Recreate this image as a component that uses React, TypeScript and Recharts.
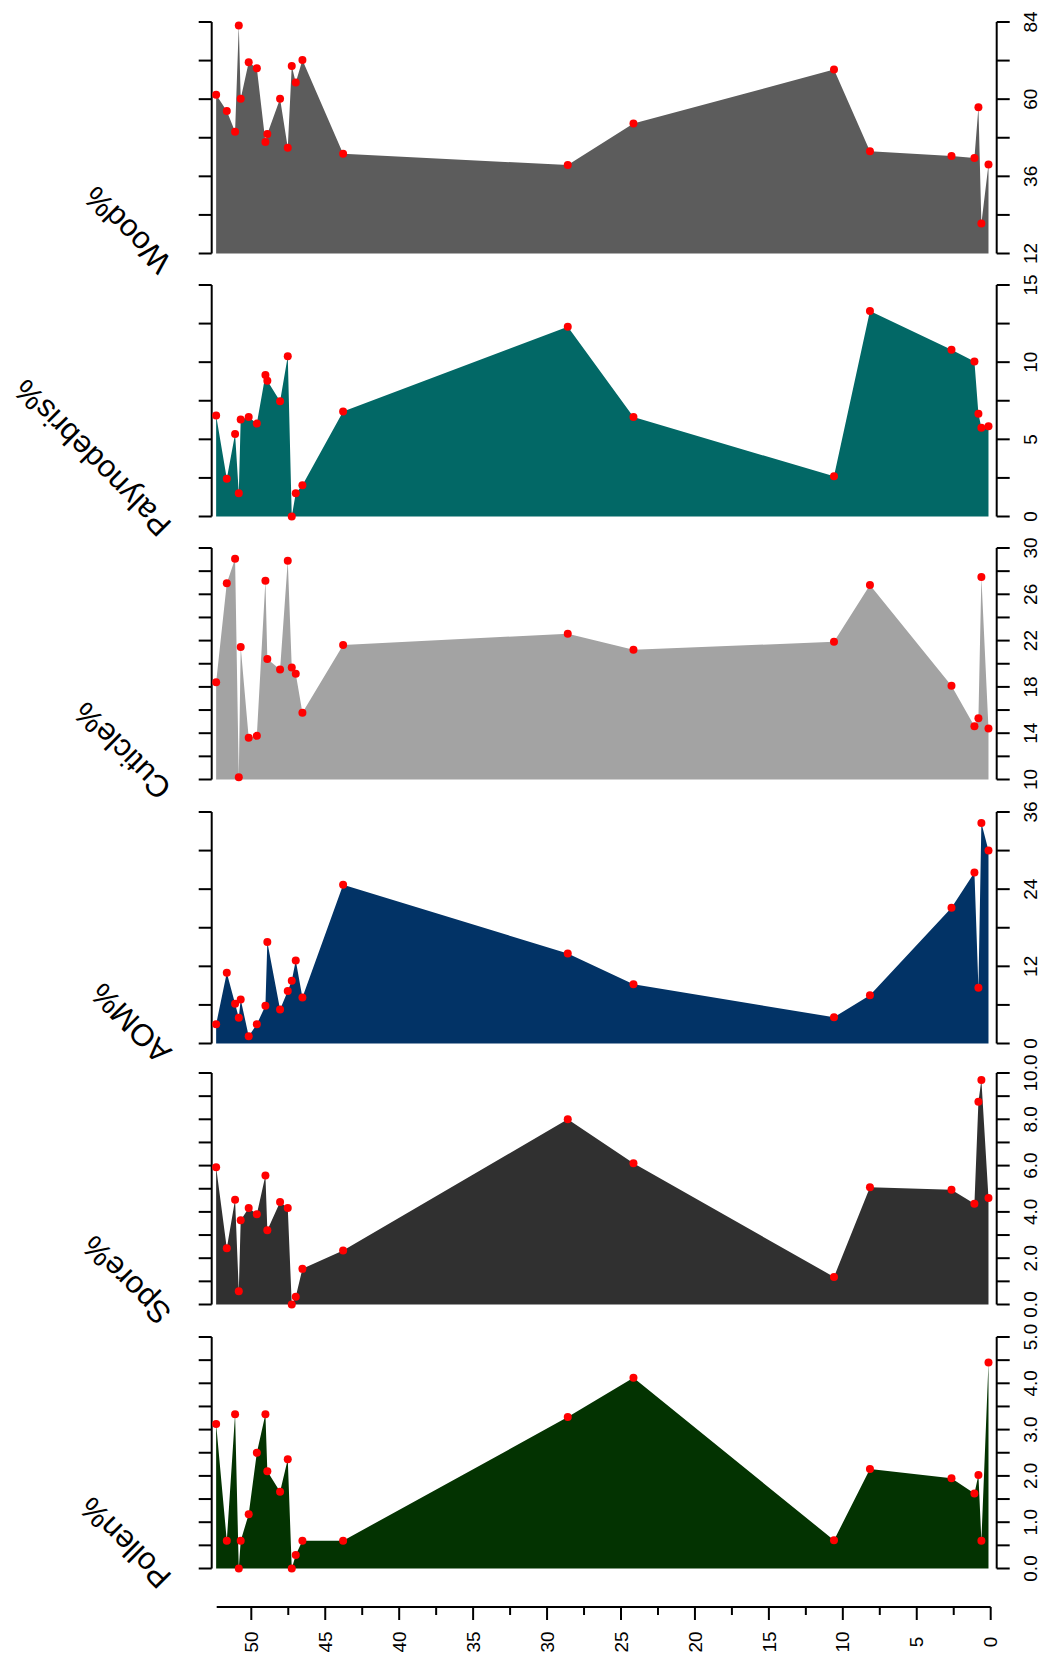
import React from "react";
import { AreaChart, Area, XAxis, YAxis } from "recharts";

// sample depths shared by every panel
const depth = [52.34, 51.62, 51.06, 50.81, 50.68, 50.14, 49.59, 49.01, 48.88, 48.02, 47.5, 47.23, 46.96, 46.51, 43.76, 28.58, 24.14, 10.59, 8.16, 2.65, 1.1, 0.83, 0.63, 0.15];

const wood = [61.4, 56.3, 49.9, 82.9, 60.1, 71.5, 69.6, 46.7, 49.2, 60.1, 44.9, 70.3, 65.2, 72.2, 43.0, 39.5, 52.4, 69.2, 43.8, 42.3, 41.7, 57.5, 21.3, 39.7];
const palyno = [6.54, 2.44, 5.35, 1.51, 6.28, 6.44, 6.02, 9.17, 8.79, 7.47, 10.38, 0, 1.51, 2.03, 6.8, 12.29, 6.45, 2.6, 13.32, 10.8, 10.05, 6.65, 5.75, 5.85];
const cuticle = [18.4, 26.96, 29.07, 10.2, 21.44, 13.6, 13.77, 27.16, 20.4, 19.5, 28.9, 19.68, 19.13, 15.77, 21.62, 22.6, 21.2, 21.9, 26.8, 18.1, 14.6, 15.3, 27.5, 14.4];
const aom = [3.0, 11.0, 6.2, 4.0, 6.86, 1.14, 3.0, 5.87, 15.8, 5.3, 8.16, 9.77, 12.9, 7.17, 24.7, 14.0, 9.2, 4.07, 7.5, 21.1, 26.6, 8.67, 34.3, 30.0];
const spore = [5.93, 2.43, 4.53, 0.57, 3.64, 4.17, 3.9, 5.57, 3.21, 4.43, 4.17, 0, 0.33, 1.54, 2.33, 8.0, 6.1, 1.19, 5.06, 4.96, 4.35, 8.76, 9.7, 4.6];
const pollen = [3.12, 0.6, 3.33, 0, 0.6, 1.17, 2.5, 3.33, 2.1, 1.66, 2.36, 0, 0.29, 0.6, 0.6, 3.27, 4.12, 0.61, 2.15, 1.95, 1.62, 2.02, 0.6, 4.45];

// tick values (all ticks) and the ones that carry a label
const woodTicks = [12, 24, 36, 48, 60, 72, 84];
const woodLabels = [12, 36, 60, 84];
const palynoTicks = [0, 2.5, 5, 7.5, 10, 12.5, 15];
const palynoLabels = [0, 5, 10, 15];
const cuticleTicks = [10, 12, 14, 16, 18, 20, 22, 24, 26, 28, 30];
const cuticleLabels = [10, 14, 18, 22, 26, 30];
const aomTicks = [0, 6, 12, 18, 24, 30, 36];
const aomLabels = [0, 12, 24, 36];
const sporeTicks = [0, 1, 2, 3, 4, 5, 6, 7, 8, 9, 10];
const sporeLabels = [0, 2, 4, 6, 8, 10];
const pollenTicks = [0, 0.5, 1, 1.5, 2, 2.5, 3, 3.5, 4, 4.5, 5];
const pollenLabels = [0, 1, 2, 3, 4, 5];
const depthTicks = [0, 2.5, 5, 7.5, 10, 12.5, 15, 17.5, 20, 22.5, 25, 27.5, 30, 32.5, 35, 37.5, 40, 42.5, 45, 47.5, 50];
const depthLabels = [0, 5, 10, 15, 20, 25, 30, 35, 40, 45, 50];

const FONT = "'Liberation Sans', Arial, Helvetica, sans-serif";
const PANEL_H = 231.5;
const M_TOP = 20;
const M_BOTTOM = 30;
const AXIS_LEFT = 211.7;
const AXIS_RIGHT = 996.7;

const panels = [
  { name: "Wood%", values: wood, color: "#5c5c5c", domain: [12, 84], ticks: woodTicks, labels: woodLabels, digits: 0, top: 21.5 },
  { name: "Palynodebris%", values: palyno, color: "#026866", domain: [0, 15], ticks: palynoTicks, labels: palynoLabels, digits: 0, top: 285 },
  { name: "Cuticle%", values: cuticle, color: "#a3a3a3", domain: [10, 30], ticks: cuticleTicks, labels: cuticleLabels, digits: 0, top: 548.3 },
  { name: "AOM%", values: aom, color: "#023366", domain: [0, 36], ticks: aomTicks, labels: aomLabels, digits: 0, top: 811.7 },
  { name: "Spore%", values: spore, color: "#303030", domain: [0, 10], ticks: sporeTicks, labels: sporeLabels, digits: 1, top: 1073.3 },
  { name: "Pollen%", values: pollen, color: "#033301", domain: [0, 5], ticks: pollenTicks, labels: pollenLabels, digits: 1, top: 1336.7 },
];

const rightTick = (labels: number[], digits: number) => (props: any) => {
  const { y, payload } = props;
  if (!labels.includes(payload.value)) return <g />;
  const cx = 1030;
  return (
    <text
      x={cx}
      y={y}
      dy="0.35em"
      textAnchor="middle"
      transform={`rotate(-90 ${cx} ${y})`}
      fontSize={19}
      fontFamily={FONT}
      fill="#000"
    >
      {payload.value.toFixed(digits)}
    </text>
  );
};

const DepthTick = (props: any) => {
  const { x, y, payload } = props;
  const major = depthLabels.includes(payload.value);
  return (
    <g>
      <line x1={x} y1={y} x2={x} y2={y + (major ? 13 : 8)} stroke="#000" strokeWidth={2} />
      {major && (
        <text
          x={x}
          y={y + 35}
          dy="0.35em"
          textAnchor="middle"
          transform={`rotate(-90 ${x} ${y + 35})`}
          fontSize={19}
          fontFamily={FONT}
          fill="#000"
        >
          {payload.value}
        </text>
      )}
    </g>
  );
};

function Panel({ p }: { p: (typeof panels)[number] }) {
  const data = depth.map((d, i) => ({ depth: d, v: p.values[i] }));
  const labelY = M_TOP + PANEL_H + 7;
  return (
    <div style={{ position: "absolute", left: 0, top: p.top - M_TOP }}>
      <AreaChart
        width={1040}
        height={PANEL_H + M_TOP + M_BOTTOM}
        data={data}
        margin={{ top: M_TOP, bottom: M_BOTTOM, left: 0, right: 0 }}
      >
        <XAxis
          dataKey="depth"
          type="number"
          domain={[-0.405, 52.64]}
          reversed
          hide
        />
        <YAxis
          yAxisId="l"
          orientation="left"
          width={AXIS_LEFT}
          domain={p.domain}
          ticks={p.ticks}
          interval={0}
          tickSize={13}
          tick={() => <g />}
          axisLine={{ stroke: "#000", strokeWidth: 2 }}
          tickLine={{ stroke: "#000", strokeWidth: 2 }}
          label={{
            content: () => (
              <text
                x={173}
                y={labelY}
                transform={`rotate(-135 173 ${labelY})`}
                fontSize={31}
                fontFamily={FONT}
                fill="#000"
                textAnchor="start"
              >
                {p.name}
              </text>
            ),
          }}
        />
        <YAxis
          yAxisId="r"
          orientation="right"
          width={1040 - AXIS_RIGHT}
          domain={p.domain}
          ticks={p.ticks}
          interval={0}
          tickSize={13}
          tick={rightTick(p.labels, p.digits)}
          axisLine={{ stroke: "#000", strokeWidth: 2 }}
          tickLine={{ stroke: "#000", strokeWidth: 2 }}
        />
        <Area
          yAxisId="r"
          type="linear"
          dataKey="v"
          stroke="none"
          fill="none"
          dot={false}
          activeDot={false}
          isAnimationActive={false}
        />
        <Area
          yAxisId="l"
          type="linear"
          dataKey="v"
          stroke="none"
          fill={p.color}
          fillOpacity={1}
          dot={{ r: 4, fill: "#ff0000", stroke: "none", fillOpacity: 1 }}
          activeDot={false}
          isAnimationActive={false}
        />
      </AreaChart>
    </div>
  );
}

export default function App() {
  const axisData = depth.map((d) => ({ depth: d, v: 0 }));
  return (
    <div style={{ position: "absolute", left: 0, top: 0, width: 1040, height: 1664, background: "#fff" }}>
      {panels.map((p) => (
        <Panel key={p.name} p={p} />
      ))}
      <div style={{ position: "absolute", left: 0, top: 1590 }}>
        <AreaChart
          width={1040}
          height={74}
          data={axisData}
          margin={{ top: 0, bottom: 0, left: 216.7, right: 1040 - 990.7 }}
        >
          <XAxis
            dataKey="depth"
            type="number"
            domain={[0, 52.3]}
            reversed
            ticks={depthTicks}
            interval={0}
            height={57}
            tickSize={0}
            tickMargin={0}
            tickLine={false}
            tick={DepthTick}
            axisLine={{ stroke: "#000", strokeWidth: 2 }}
          />
          <YAxis hide domain={[0, 5]} />
          <Area
            type="linear"
            dataKey="v"
            stroke="none"
            fill="none"
            dot={false}
            activeDot={false}
            isAnimationActive={false}
          />
        </AreaChart>
      </div>
    </div>
  );
}
